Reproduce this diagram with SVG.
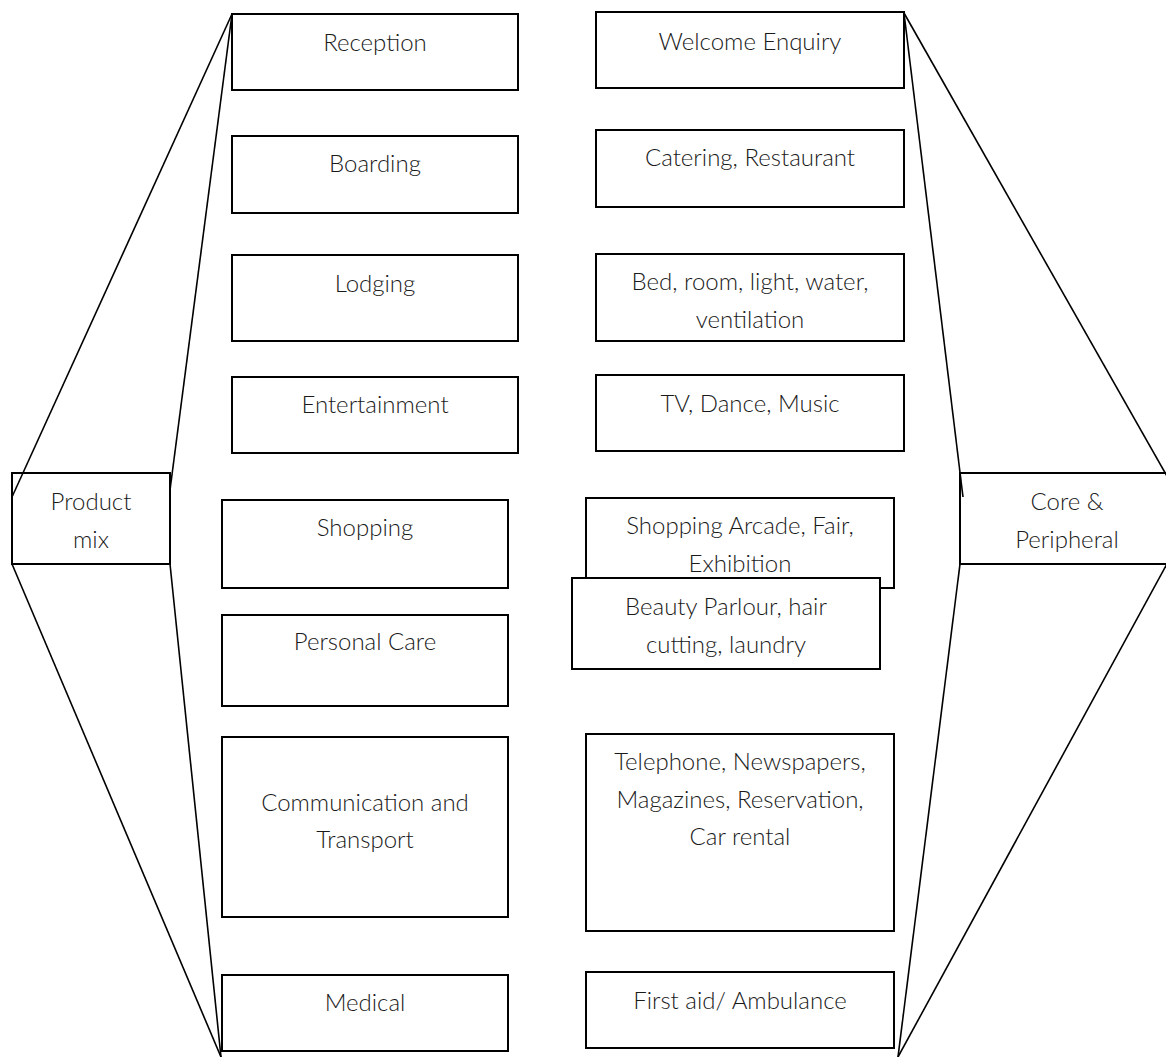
<svg xmlns="http://www.w3.org/2000/svg" width="1166" height="1057" viewBox="0 0 1166 1057">
  <style>
    .box { fill: #ffffff; stroke: #000000; stroke-width: 2; }
    .lbl { font-family: Lato, "Open Sans", "Liberation Sans", sans-serif; font-weight: 300; font-size: 24px; fill: #1a1a1a; text-anchor: middle; }
    .conn { stroke: #000000; stroke-width: 1.6; fill: none; }
  </style>
  <rect x="0" y="0" width="1166" height="1057" fill="#ffffff"/>

  <!-- side labels -->
  <g id="product-mix">
    <rect class="box" x="12" y="473" width="158" height="91"/>
    <text class="lbl" x="91" y="510">Product</text>
    <text class="lbl" x="91" y="548">mix</text>
  </g>
  <g id="core-peripheral">
    <rect class="box" x="960" y="473" width="214" height="91"/>
    <text class="lbl" x="1067" y="510">Core &amp;</text>
    <text class="lbl" x="1067" y="548">Peripheral</text>
  </g>

  <!-- product mix column -->
  <g id="reception">
    <rect class="box" x="232" y="14" width="286" height="76"/>
    <text class="lbl" x="375" y="51">Reception</text>
  </g>
  <g id="boarding">
    <rect class="box" x="232" y="136" width="286" height="77"/>
    <text class="lbl" x="375" y="172">Boarding</text>
  </g>
  <g id="lodging">
    <rect class="box" x="232" y="255" width="286" height="86"/>
    <text class="lbl" x="375" y="292">Lodging</text>
  </g>
  <g id="entertainment">
    <rect class="box" x="232" y="377" width="286" height="76"/>
    <text class="lbl" x="375" y="413">Entertainment</text>
  </g>
  <g id="shopping">
    <rect class="box" x="222" y="500" width="286" height="88"/>
    <text class="lbl" x="365" y="536">Shopping</text>
  </g>
  <g id="personal-care">
    <rect class="box" x="222" y="615" width="286" height="91"/>
    <text class="lbl" x="365" y="650">Personal Care</text>
  </g>
  <g id="communication-transport">
    <rect class="box" x="222" y="737" width="286" height="180"/>
    <text class="lbl" x="365" y="811">Communication and</text>
    <text class="lbl" x="365" y="848">Transport</text>
  </g>
  <g id="medical">
    <rect class="box" x="222" y="975" width="286" height="76"/>
    <text class="lbl" x="365" y="1011">Medical</text>
  </g>

  <!-- core & peripheral column -->
  <g id="welcome-enquiry">
    <rect class="box" x="596" y="12" width="308" height="76"/>
    <text class="lbl" x="750" y="50">Welcome Enquiry</text>
  </g>
  <g id="catering-restaurant">
    <rect class="box" x="596" y="130" width="308" height="77"/>
    <text class="lbl" x="750" y="166">Catering, Restaurant</text>
  </g>
  <g id="bed-room">
    <rect class="box" x="596" y="254" width="308" height="87"/>
    <text class="lbl" x="750" y="290">Bed, room, light, water,</text>
    <text class="lbl" x="750" y="328">ventilation</text>
  </g>
  <g id="tv-dance-music">
    <rect class="box" x="596" y="375" width="308" height="76"/>
    <text class="lbl" x="750" y="412">TV, Dance, Music</text>
  </g>
  <g id="shopping-arcade">
    <rect class="box" x="586" y="498" width="308" height="90"/>
    <text class="lbl" x="740" y="534">Shopping Arcade, Fair,</text>
    <text class="lbl" x="740" y="572">Exhibition</text>
  </g>
  <g id="beauty-parlour">
    <rect class="box" x="572" y="578" width="308" height="91"/>
    <text class="lbl" x="726" y="615">Beauty Parlour, hair</text>
    <text class="lbl" x="726" y="653">cutting, laundry</text>
  </g>
  <g id="telephone-newspapers">
    <rect class="box" x="586" y="734" width="308" height="197"/>
    <text class="lbl" x="740" y="770">Telephone, Newspapers,</text>
    <text class="lbl" x="740" y="808">Magazines, Reservation,</text>
    <text class="lbl" x="740" y="845">Car rental</text>
  </g>
  <g id="first-aid">
    <rect class="box" x="586" y="972" width="308" height="76"/>
    <text class="lbl" x="740" y="1009">First aid/ Ambulance</text>
  </g>

  <!-- fan lines joining the side labels to the columns -->
  <g id="connectors">
    <line class="conn" x1="232" y1="14" x2="12" y2="497"/>
    <line class="conn" x1="232" y1="14" x2="170" y2="490"/>
    <line class="conn" x1="12" y1="564" x2="221" y2="1057"/>
    <line class="conn" x1="170" y1="564" x2="221" y2="1057"/>
    <line class="conn" x1="904" y1="13" x2="1168" y2="478"/>
    <line class="conn" x1="904" y1="13" x2="963" y2="497"/>
    <line class="conn" x1="960" y1="564" x2="898" y2="1057"/>
    <line class="conn" x1="1168" y1="562" x2="898" y2="1057"/>
  </g>
</svg>
